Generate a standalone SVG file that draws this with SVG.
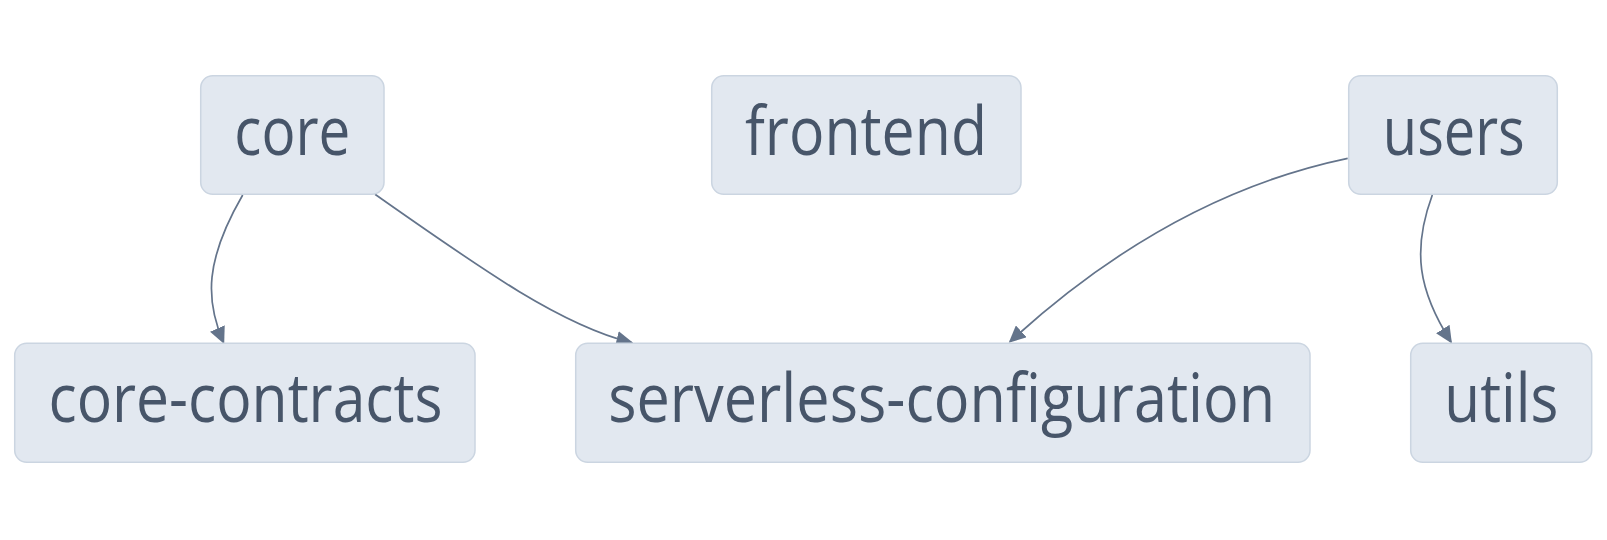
<svg xmlns="http://www.w3.org/2000/svg" width="1607" height="540" viewBox="0 0 1607 540">
<style>
.box{fill:#e2e8f0;stroke:#cbd5e1;stroke-width:1.5}
.lbl{font-family:"Open Sans","Noto Sans",sans-serif;font-size:68px;fill:#475569;text-anchor:middle}
.edge{fill:none;stroke:#64748b;stroke-width:1.7}
</style>
<defs>
<marker id="arr" viewBox="0 0 10 10" refX="9" refY="5" markerWidth="17" markerHeight="16" markerUnits="userSpaceOnUse" orient="auto" preserveAspectRatio="none">
<path d="M0,0 L10,5 L0,10 z" fill="#64748b"/>
</marker>
</defs>
<rect width="1607" height="540" fill="#ffffff"/>
<g id="connectors">
<path class="edge" marker-end="url(#arr)" d="M242.7,195 C205,260 205,300 223.5,342.5"/>
<path class="edge" marker-end="url(#arr)" d="M375,194.3 C480,268 560,325 631.7,342.7"/>
<path class="edge" marker-end="url(#arr)" d="M1347.7,158.3 C1220,185 1110,250 1010,341.7"/>
<path class="edge" marker-end="url(#arr)" d="M1432.3,195 C1412,250 1418,290 1451,342"/>
</g>
<g id="node-core">
<rect class="box" x="200.7" y="75.7" width="183.3" height="118.6" rx="12"/>
<text class="lbl" x="292.3" y="155" textLength="116" lengthAdjust="spacingAndGlyphs">core</text>
</g>
<g id="node-frontend">
<rect class="box" x="711.7" y="75.7" width="309.3" height="118.6" rx="12"/>
<text class="lbl" x="866" y="155" textLength="242" lengthAdjust="spacingAndGlyphs">frontend</text>
</g>
<g id="node-users">
<rect class="box" x="1348.7" y="75.7" width="208.6" height="118.6" rx="12"/>
<text class="lbl" x="1453.8" y="155" textLength="142" lengthAdjust="spacingAndGlyphs">users</text>
</g>
<g id="node-core-contracts">
<rect class="box" x="14.7" y="343.3" width="460.3" height="119" rx="12"/>
<text class="lbl" x="245.5" y="421.7" textLength="394" lengthAdjust="spacingAndGlyphs">core-contracts</text>
</g>
<g id="node-serverless-configuration">
<rect class="box" x="575.7" y="343.3" width="734.3" height="119" rx="12"/>
<text class="lbl" x="941.7" y="421.7" textLength="667" lengthAdjust="spacingAndGlyphs">serverless-configuration</text>
</g>
<g id="node-utils">
<rect class="box" x="1410.7" y="343.3" width="181" height="119" rx="12"/>
<text class="lbl" x="1501.3" y="421.7" textLength="114" lengthAdjust="spacingAndGlyphs">utils</text>
</g>
</svg>
